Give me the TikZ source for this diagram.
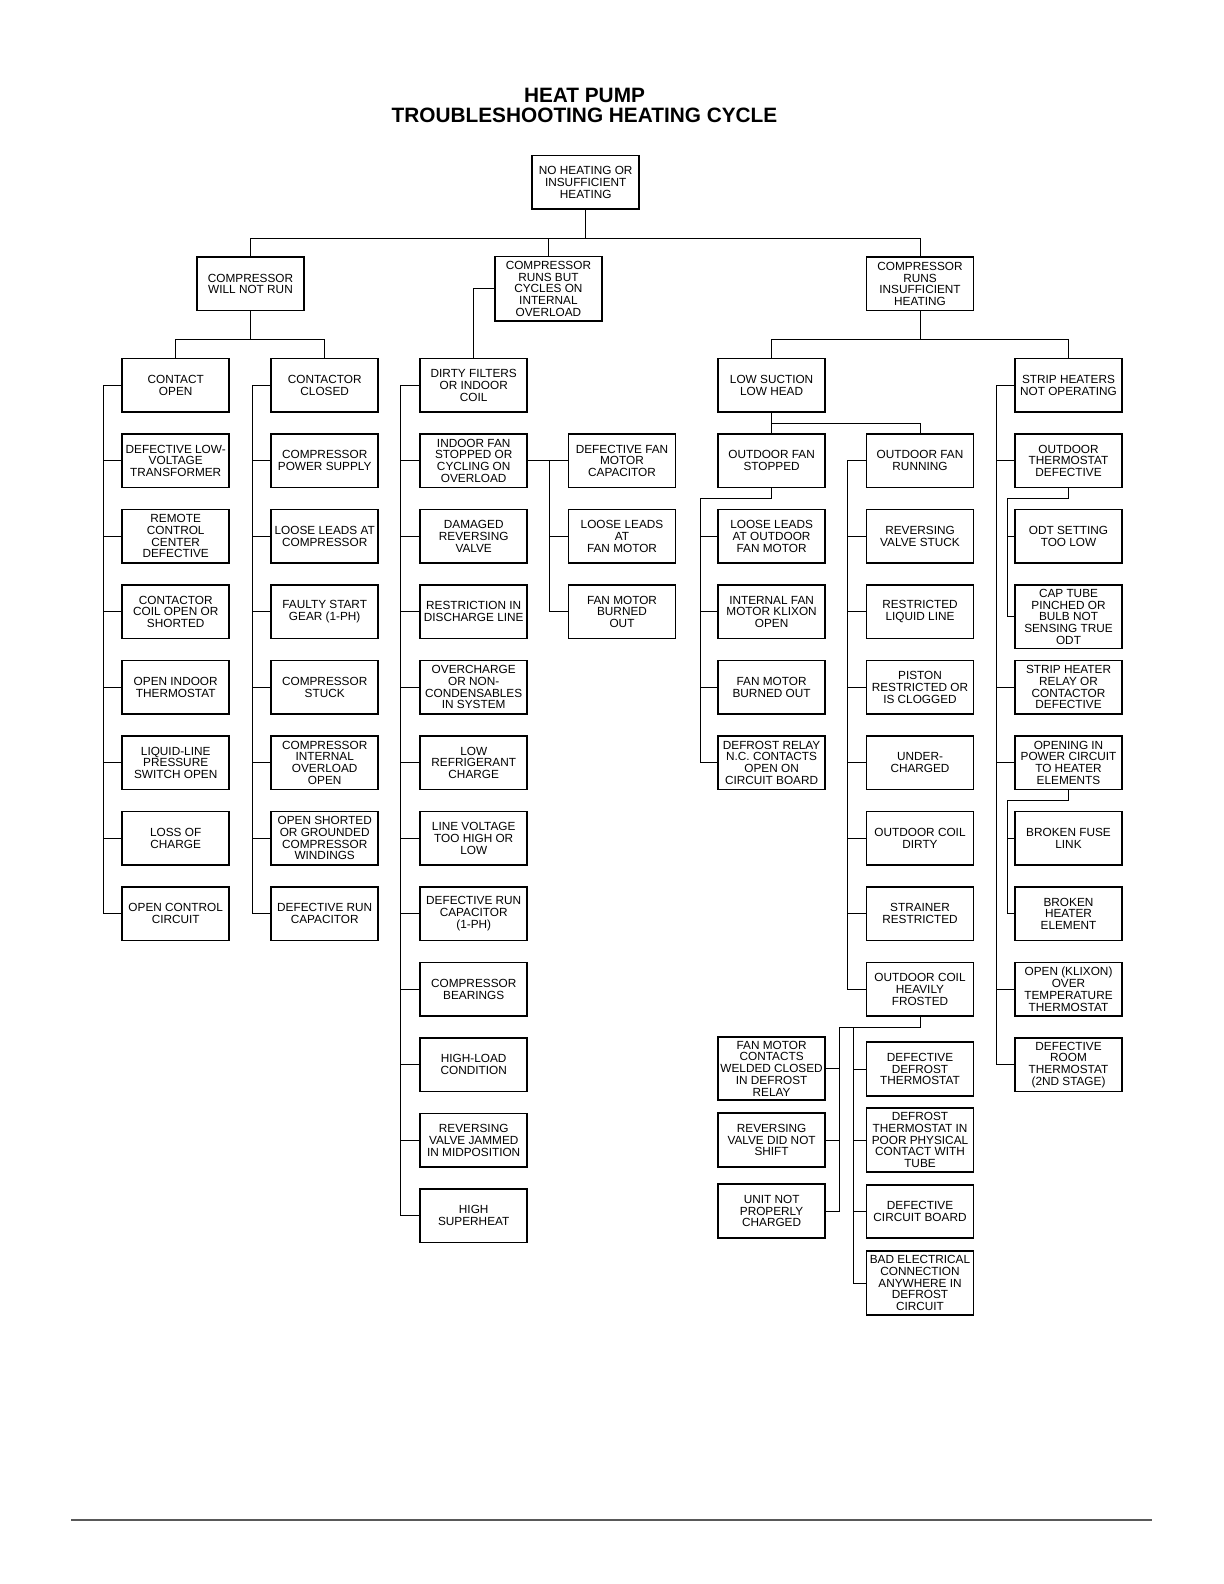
\documentclass[tikz,border=0pt]{standalone}
\usepackage{fontspec}
\newfontfamily\chartfont{Liberation Sans}
\usetikzlibrary{calc}
\tikzset{
    box/.style={draw,line width=0.9pt,align=center,minimum width=53.5pt,minimum height=26.75pt,
        inner xsep=0.5pt,inner ysep=1pt,font=\chartfont\fontsize{5.9}{5.85}\selectfont},
    tallbox/.style={box,minimum height=32pt},
    wire/.style={line width=0.5pt}
}

\begin{document}
\begin{tikzpicture}[x=0.5pt,y=-0.5pt]
    \useasboundingbox (0,0) rectangle (1224,1584);

    % title
    \node[font=\chartfont\bfseries\fontsize{10.4}{10}\selectfont,align=center] (title) at (584.5,105.7)
        {HEAT PUMP\\TROUBLESHOOTING HEATING CYCLE};

    % top of tree
    \node[box] (top) at (585.7,182.3) {NO HEATING OR\\INSUFFICIENT\\HEATING};
    \node[box] (wnr) at (250.5,283.8) {COMPRESSOR\\WILL NOT RUN};
    \node[box,minimum height=32.3pt] (cyc) at (548.4,288.8) {COMPRESSOR\\RUNS BUT\\CYCLES ON\\INTERNAL\\OVERLOAD};
    \node[box] (ins) at (920,283.8) {COMPRESSOR\\RUNS\\INSUFFICIENT\\HEATING};

    % compressor will not run: contact open
    \node[box] (a0) at (175.7,385.25) {CONTACT\\OPEN};
    \node[box] (a1) at (175.7,460.75) {DEFECTIVE LOW-\\VOLTAGE\\TRANSFORMER};
    \node[box] (a2) at (175.7,536.25) {REMOTE\\CONTROL\\CENTER\\DEFECTIVE};
    \node[box] (a3) at (175.7,611.75) {CONTACTOR\\COIL OPEN OR\\SHORTED};
    \node[box] (a4) at (175.7,687.25) {OPEN INDOOR\\THERMOSTAT};
    \node[box] (a5) at (175.7,762.75) {LIQUID-LINE\\PRESSURE\\SWITCH OPEN};
    \node[box] (a6) at (175.7,838.25) {LOSS OF\\CHARGE};
    \node[box] (a7) at (175.7,913.75) {OPEN CONTROL\\CIRCUIT};

    % compressor will not run: contactor closed
    \node[box] (b0) at (324.7,385.25) {CONTACTOR\\CLOSED};
    \node[box] (b1) at (324.7,460.75) {COMPRESSOR\\POWER SUPPLY};
    \node[box] (b2) at (324.7,536.25) {LOOSE LEADS AT\\COMPRESSOR};
    \node[box] (b3) at (324.7,611.75) {FAULTY START\\GEAR (1-PH)};
    \node[box] (b4) at (324.7,687.25) {COMPRESSOR\\STUCK};
    \node[box] (b5) at (324.7,762.75) {COMPRESSOR\\INTERNAL\\OVERLOAD\\OPEN};
    \node[box] (b6) at (324.7,838.25) {OPEN SHORTED\\OR GROUNDED\\COMPRESSOR\\WINDINGS};
    \node[box] (b7) at (324.7,913.75) {DEFECTIVE RUN\\CAPACITOR};

    % runs but cycles on overload
    \node[box] (c0) at (473.7,385.25) {DIRTY FILTERS\\OR INDOOR\\COIL};
    \node[box] (c1) at (473.7,460.75) {INDOOR FAN\\STOPPED OR\\CYCLING ON\\OVERLOAD};
    \node[box] (c2) at (473.7,536.25) {DAMAGED\\REVERSING\\VALVE};
    \node[box] (c3) at (473.7,611.75) {RESTRICTION IN\\DISCHARGE LINE};
    \node[box] (c4) at (473.7,687.25) {OVERCHARGE\\OR NON-\\CONDENSABLES\\IN SYSTEM};
    \node[box] (c5) at (473.7,762.75) {LOW\\REFRIGERANT\\CHARGE};
    \node[box] (c6) at (473.7,838.25) {LINE VOLTAGE\\TOO HIGH OR\\LOW};
    \node[box] (c7) at (473.7,913.75) {DEFECTIVE RUN\\CAPACITOR\\(1-PH)};
    \node[box] (c8) at (473.7,989.25) {COMPRESSOR\\BEARINGS};
    \node[box] (c9) at (473.7,1064.75) {HIGH-LOAD\\CONDITION};
    \node[box] (c10) at (473.7,1140.25) {REVERSING\\VALVE JAMMED\\IN MIDPOSITION};
    \node[box] (c11) at (473.7,1215.75) {HIGH\\SUPERHEAT};

    % indoor fan
    \node[box] (d1) at (622,460.75) {DEFECTIVE FAN\\MOTOR\\CAPACITOR};
    \node[box] (d2) at (622,536.25) {LOOSE LEADS\\AT\\FAN MOTOR};
    \node[box] (d3) at (622,611.75) {FAN MOTOR\\BURNED\\OUT};

    % low suction low head / outdoor fan stopped
    \node[box] (e0) at (771.6,385.25) {LOW SUCTION\\LOW HEAD};
    \node[box] (e1) at (771.6,460.75) {OUTDOOR FAN\\STOPPED};
    \node[box] (e2) at (771.6,536.25) {LOOSE LEADS\\AT OUTDOOR\\FAN MOTOR};
    \node[box] (e3) at (771.6,611.75) {INTERNAL FAN\\MOTOR KLIXON\\OPEN};
    \node[box] (e4) at (771.6,687.25) {FAN MOTOR\\BURNED OUT};
    \node[box] (e5) at (771.6,762.75) {DEFROST RELAY\\N.C. CONTACTS\\OPEN ON\\CIRCUIT BOARD};

    % outdoor fan running
    \node[box] (f1) at (920,460.75) {OUTDOOR FAN\\RUNNING};
    \node[box] (f2) at (920,536.25) {REVERSING\\VALVE STUCK};
    \node[box] (f3) at (920,611.75) {RESTRICTED\\LIQUID LINE};
    \node[box] (f4) at (920,687.25) {PISTON\\RESTRICTED OR\\IS CLOGGED};
    \node[box] (f5) at (920,762.75) {UNDER-\\CHARGED};
    \node[box] (f6) at (920,838.25) {OUTDOOR COIL\\DIRTY};
    \node[box] (f7) at (920,913.75) {STRAINER\\RESTRICTED};
    \node[box] (f8) at (920,989.25) {OUTDOOR COIL\\HEAVILY\\FROSTED};

    % heavily frosted
    \node[box,minimum height=31.5pt] (g1) at (771.6,1068.5) {FAN MOTOR\\CONTACTS\\WELDED CLOSED\\IN DEFROST\\RELAY};
    \node[box] (g2) at (771.6,1140) {REVERSING\\VALVE DID NOT\\SHIFT};
    \node[box] (g3) at (771.6,1211) {UNIT NOT\\PROPERLY\\CHARGED};
    \node[box] (h1) at (920,1069) {DEFECTIVE\\DEFROST\\THERMOSTAT};
    \node[tallbox] (h2) at (920,1140) {DEFROST\\THERMOSTAT IN\\POOR PHYSICAL\\CONTACT WITH\\TUBE};
    \node[box] (h3) at (920,1211.5) {DEFECTIVE\\CIRCUIT BOARD};
    \node[tallbox] (h4) at (920,1283) {BAD ELECTRICAL\\CONNECTION\\ANYWHERE IN\\DEFROST\\CIRCUIT};

    % strip heaters
    \node[box] (i0) at (1068.5,385.25) {STRIP HEATERS\\NOT OPERATING};
    \node[box] (i1) at (1068.5,460.75) {OUTDOOR\\THERMOSTAT\\DEFECTIVE};
    \node[box] (i2) at (1068.5,536.25) {ODT SETTING\\TOO LOW};
    \node[box,minimum height=31.75pt] (i3) at (1068.5,616.75) {CAP TUBE\\PINCHED OR\\BULB NOT\\SENSING TRUE\\ODT};
    \node[box] (i4) at (1068.5,687.25) {STRIP HEATER\\RELAY OR\\CONTACTOR\\DEFECTIVE};
    \node[box] (i5) at (1068.5,762.75) {OPENING IN\\POWER CIRCUIT\\TO HEATER\\ELEMENTS};
    \node[box] (i6) at (1068.5,838.25) {BROKEN FUSE\\LINK};
    \node[box] (i7) at (1068.5,913.75) {BROKEN\\HEATER\\ELEMENT};
    \node[box] (i8) at (1068.5,989.25) {OPEN (KLIXON)\\OVER\\TEMPERATURE\\THERMOSTAT};
    \node[box] (i9) at (1068.5,1064.75) {DEFECTIVE\\ROOM\\THERMOSTAT\\(2ND STAGE)};

    % junctions
    \coordinate (j1) at (585.7,238.3);
    \coordinate (jw) at (250.5,339.3);
    \coordinate (ji) at (920,339.3);
    \coordinate (eS) at (700,498);
    \coordinate (fJ) at (839.7,1027);
    \coordinate (hS) at (853,1027);
    \coordinate (iA) at (1007,498);
    \coordinate (iB) at (1007,800);

    % upper branches
    \draw[wire] (top.south) -- (j1);
    \draw[wire] (wnr.north) |- (j1) -| (ins.north);
    \draw[wire] (cyc.north) -- (cyc.north |- j1);
    \draw[wire] (wnr.south) -- (jw);
    \draw[wire] (a0.north) |- (jw) -| (b0.north);
    \draw[wire] (ins.south) -- (ji);
    \draw[wire] (e0.north) |- (ji) -| (i0.north);
    \draw[wire] (cyc.west) -| (c0.north);

    % spines
    \draw[wire] (a0.west) -- ++(-18,0) |- (a7.west);
    \foreach \n in {a1,a2,a3,a4,a5,a6} {\draw[wire] (\n.west) -- ++(-18,0);}
    \draw[wire] (b0.west) -- ++(-18,0) |- (b7.west);
    \foreach \n in {b1,b2,b3,b4,b5,b6} {\draw[wire] (\n.west) -- ++(-18,0);}
    \draw[wire] (c0.west) -- ++(-19,0) |- (c11.west);
    \foreach \n in {c1,c2,c3,c4,c5,c6,c7,c8,c9,c10} {\draw[wire] (\n.west) -- ++(-19,0);}
    \draw[wire] (c1.east) -- (d1.west);
    \draw[wire] (d1.west) -- ++(-18,0) |- (d3.west);
    \draw[wire] (d2.west) -- ++(-18,0);

    \draw[wire] (e0.south) -- (e1.north);
    \draw[wire] (e0.south) -- ++(0,11) -| (f1.north);
    \draw[wire] (e1.south) |- (eS) |- (e5.west);
    \foreach \n in {e2,e3,e4} {\draw[wire] (eS |- \n.west) -- (\n.west);}
    \draw[wire] (f1.west) -- ++(-18,0) |- (f8.west);
    \foreach \n in {f2,f3,f4,f5,f6,f7} {\draw[wire] (\n.west) -- ++(-18,0);}

    \draw[wire] (f8.south) |- (fJ) |- (g3.east);
    \foreach \n in {g1,g2} {\draw[wire] (fJ |- \n.east) -- (\n.east);}
    \draw[wire] (hS) |- (h4.west);
    \foreach \n in {h1,h2,h3} {\draw[wire] (hS |- \n.west) -- (\n.west);}

    \draw[wire] (i0.west) -- ++(-18,0) |- (i9.west);
    \foreach \n in {i1,i4,i5,i8} {\draw[wire] (\n.west) -- ++(-18,0);}
    \draw[wire] (i1.south) |- (iA) |- (i3.west);
    \draw[wire] (iA |- i2.west) -- (i2.west);
    \draw[wire] (i5.south) |- (iB) |- (i7.west);
    \draw[wire] (iB |- i6.west) -- (i6.west);

    % page rule
    \draw[line width=0.6pt,black!65] (71,1520) -- (1152,1520);
\end{tikzpicture}
\end{document}
